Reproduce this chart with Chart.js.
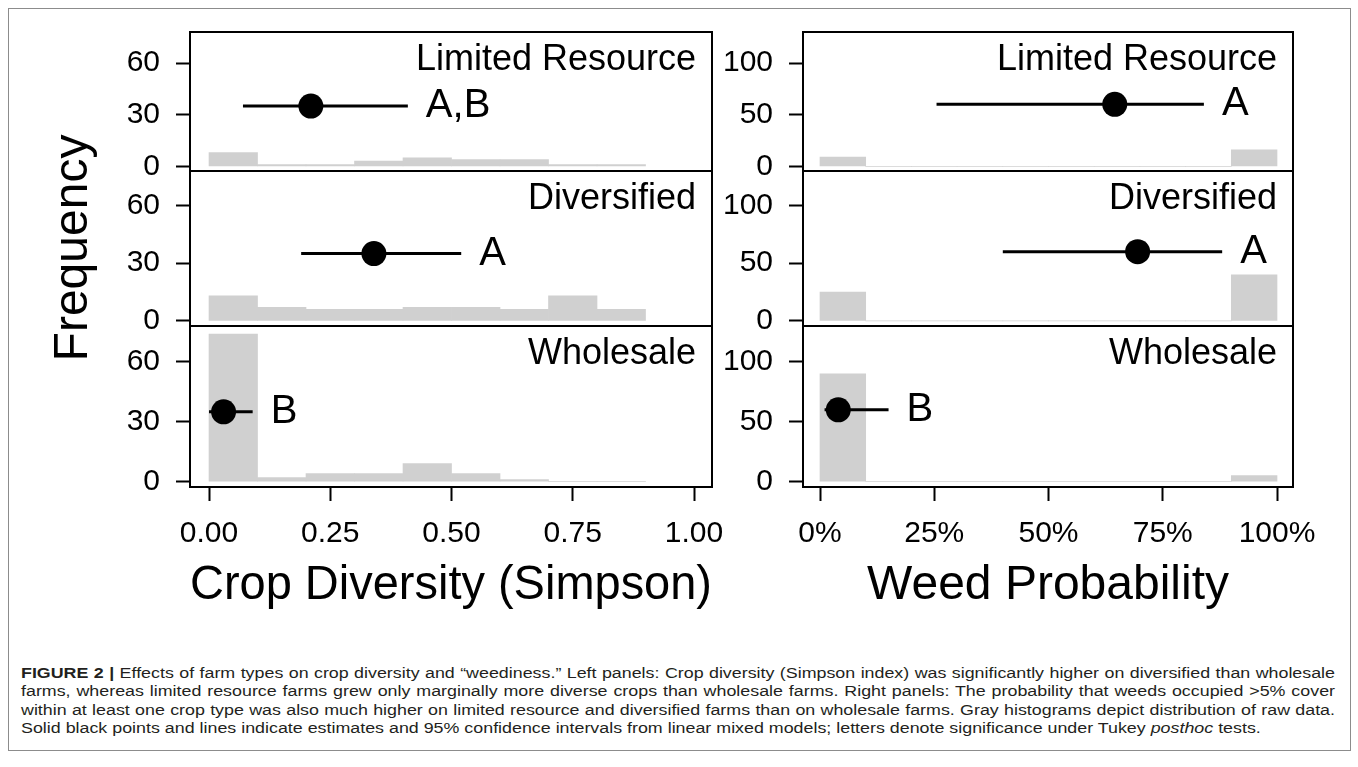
<!DOCTYPE html>
<html>
<head>
<meta charset="utf-8">
<script src="https://cdn.jsdelivr.net/npm/chart.js@4.4.1/dist/chart.umd.min.js"></script>
<style>
body { margin: 0; background: #fff; width: 1358px; height: 767px; overflow: hidden; position: relative; }
#frame { position: absolute; left: 8px; top: 8px; width: 1341px; height: 741px; border: 1px solid #8c8c8c; }
#leftChart { position: absolute; left: 0; top: 0; }
#rightChart { position: absolute; left: 712px; top: 0; }
#caption { position: absolute; left: 21px; top: 664px; width: 1080px; color: #231f20;
  font-family: "Liberation Sans", Arial, sans-serif;
  font-size: 14px; line-height: 18.4px; transform-origin: 0 0; transform: scaleX(1.2167); }
#caption .cl { text-align: justify; text-align-last: justify; }
#caption .cl.last { text-align-last: left; }
</style>
</head>
<body>
<div id="frame"></div>
<canvas id="leftChart" width="745" height="650"></canvas>
<canvas id="rightChart" width="646" height="650"></canvas>
<div id="caption">
  <div class="cl"><b>FIGURE 2 |</b> Effects of farm types on crop diversity and “weediness.” Left panels: Crop diversity (Simpson index) was significantly higher on diversified than wholesale</div>
  <div class="cl">farms, whereas limited resource farms grew only marginally more diverse crops than wholesale farms. Right panels: The probability that weeds occupied &gt;5% cover</div>
  <div class="cl">within at least one crop type was also much higher on limited resource and diversified farms than on wholesale farms. Gray histograms depict distribution of raw data.</div>
  <div class="cl last">Solid black points and lines indicate estimates and 95% confidence intervals from linear mixed models; letters denote significance under Tukey <i>posthoc</i> tests.</div>
</div>
<script>
// facets, top to bottom
var farmTypes = ["Limited Resource", "Diversified", "Wholesale"];

// crop diversity histograms (bin left edges, width 0.1)
var divBins = [0, 0.1, 0.2, 0.3, 0.4, 0.5, 0.6, 0.7, 0.8];
var divLimited = [8, 1, 1, 3, 5, 4, 4, 1, 1];
var divDiversified = [13, 7, 6, 6, 7, 7, 6, 13, 6];
var divWholesale = [74, 2, 4, 4, 9, 4, 1, 0, 0];

// weed probability histograms
var weedBins = [0, 0.1, 0.2, 0.3, 0.4, 0.5, 0.6, 0.7, 0.8, 0.9];
var weedLimited = [9, 0, 0, 0, 0, 0, 0, 0, 0, 16];
var weedDiversified = [25, 0, 0, 0, 0, 0, 0, 0, 0, 40];
var weedWholesale = [90, 0, 0, 0, 0, 0, 0, 0, 0, 5];

// model estimates and 95% CI
var divEst = [0.21, 0.34, 0.03];
var divLow = [0.07, 0.19, 0.0];
var divHigh = [0.41, 0.52, 0.09];
var divLetters = ["A,B", "A", "B"];
var divEstY = 35;

var weedEst = [0.645, 0.695, 0.04];
var weedLow = [0.255, 0.40, 0.01];
var weedHigh = [0.84, 0.88, 0.15];
var weedLetters = ["A", "A", "B"];
var weedEstY = 60;

// ticks
var divTicks = [0, 0.25, 0.5, 0.75, 1];
var divTickLabels = ["0.00", "0.25", "0.50", "0.75", "1.00"];
var weedTicks = [0, 0.25, 0.5, 0.75, 1];
var weedTickLabels = ["0%", "25%", "50%", "75%", "100%"];
var divFreqTicks = [0, 30, 60];
var weedFreqTicks = [0, 50, 100];

var FONT = '"Liberation Sans", Arial, Helvetica, sans-serif';
var GRAY = '#d0d0d0';
var panelWeights = [139, 155, 161];
var axisIds = ["yL", "yD", "yW"];

Chart.defaults.font.family = FONT;
Chart.defaults.color = '#000';

var panelDecor = {
    id: 'panelDecor',
    afterDraw: function(chart, args, opts) {
        var ctx = chart.ctx;
        var area = chart.chartArea;
        var xs = chart.scales.x;
        ctx.save();
        axisIds.forEach(function(id, i) {
            var ys = chart.scales[id];
            ctx.lineWidth = 2;
            ctx.strokeStyle = '#000';
            ctx.strokeRect(area.left, ys.top, area.right - area.left, ys.bottom - ys.top);
            ctx.fillStyle = '#000';
            ctx.font = '36px ' + FONT;
            ctx.textAlign = 'right';
            ctx.textBaseline = 'middle';
            ctx.fillText(farmTypes[i], area.right - 16, ys.top + 28);
            // significance letter just past the upper CI
            ctx.font = '40px ' + FONT;
            ctx.textAlign = 'left';
            ctx.fillText(opts.letters[i], xs.getPixelForValue(opts.high[i]) + 18, ys.getPixelForValue(opts.estY));
        });
        if (opts.yTitle) {
            ctx.translate(87, 248);
            ctx.rotate(-Math.PI / 2);
            ctx.font = '48px ' + FONT;
            ctx.textAlign = 'center';
            ctx.textBaseline = 'alphabetic';
            ctx.fillText(opts.yTitle, 0, 0);
        }
        ctx.restore();
    }
};

function yAxis(weight, ticks, min, max, width) {
    return {
        type: 'linear',
        position: 'left',
        stack: 'panels',
        stackWeight: weight,
        min: min,
        max: max,
        afterBuildTicks: function(s) { s.ticks = ticks.map(function(v) { return { value: v }; }); },
        ticks: { font: { size: 30 }, color: '#000', padding: 16 },
        grid: { drawOnChartArea: false, tickLength: 14, tickWidth: 2, tickColor: '#000' },
        border: { display: false },
        afterFit: function(s) { s.width = width; s.paddingTop = 0; s.paddingBottom = 0; }
    };
}

function makeChart(canvasId, p) {
    var datasets = [];
    p.counts.forEach(function(counts, i) {
        datasets.push({
            type: 'bar',
            data: p.bins.map(function(b, j) { return { x: b + 0.05, y: counts[j] }; }),
            yAxisID: axisIds[i],
            backgroundColor: GRAY,
            borderWidth: 0,
            barPercentage: 1,
            categoryPercentage: 1,
            grouped: false,
            order: 3
        });
        datasets.push({
            type: 'line',
            data: [{ x: p.low[i], y: p.estY }, { x: p.high[i], y: p.estY }],
            yAxisID: axisIds[i],
            borderColor: '#000',
            borderWidth: 3,
            pointRadius: 0,
            order: 2
        });
        datasets.push({
            type: 'scatter',
            data: [{ x: p.est[i], y: p.estY }],
            yAxisID: axisIds[i],
            backgroundColor: '#000',
            borderWidth: 0,
            pointRadius: 12.5,
            order: 1
        });
    });

    var scales = {
        x: {
            type: 'linear',
            offset: false,
            min: p.xMin,
            max: p.xMax,
            afterBuildTicks: function(s) { s.ticks = p.ticks.map(function(v) { return { value: v }; }); },
            ticks: {
                font: { size: 30 }, color: '#000', padding: 15, maxRotation: 0, autoSkip: false,
                callback: function(v, i) { return p.tickLabels[i]; }
            },
            grid: { offset: false, drawOnChartArea: false, tickLength: 14, tickWidth: 2, tickColor: '#000' },
            border: { display: false },
            title: { display: true, text: p.xTitle, font: { size: 48 }, color: '#000', padding: 0 },
            afterFit: function(s) { s.height = 128; s.paddingLeft = 0; s.paddingRight = 0; }
        }
    };
    // bottom panel first: stacked left axes are placed from the last one down
    scales.yW = yAxis(panelWeights[2], p.yTicks, p.yMin, p.yMax, p.yWidth);
    scales.yD = yAxis(panelWeights[1], p.yTicks, p.yMin, p.yMax, p.yWidth);
    scales.yL = yAxis(panelWeights[0], p.yTicks, p.yMin, p.yMax, p.yWidth);

    return new Chart(document.getElementById(canvasId), {
        type: 'bar',
        data: { datasets: datasets },
        options: {
            responsive: false,
            animation: false,
            layout: { padding: { left: 0, top: 32, right: p.padRight, bottom: 35 } },
            plugins: {
                legend: { display: false },
                tooltip: { enabled: false },
                panelDecor: { letters: p.letters, high: p.high, estY: p.estY, yTitle: p.yTitle }
            },
            scales: scales
        },
        plugins: [panelDecor]
    });
}

makeChart('leftChart', {
    bins: divBins,
    counts: [divLimited, divDiversified, divWholesale],
    est: divEst, low: divLow, high: divHigh, letters: divLetters, estY: divEstY,
    ticks: divTicks, tickLabels: divTickLabels, yTicks: divFreqTicks,
    xMin: -0.0392, xMax: 1.0371, yMin: -2.7, yMax: 78,
    xTitle: 'Crop Diversity (Simpson)', yTitle: 'Frequency',
    yWidth: 190, padRight: 33
});

makeChart('rightChart', {
    bins: weedBins,
    counts: [weedLimited, weedDiversified, weedWholesale],
    est: weedEst, low: weedLow, high: weedHigh, letters: weedLetters, estY: weedEstY,
    ticks: weedTicks, tickLabels: weedTickLabels, yTicks: weedFreqTicks,
    xMin: -0.0372, xMax: 1.035, yMin: -4.5, yMax: 130,
    xTitle: 'Weed Probability', yTitle: null,
    yWidth: 91, padRight: 65
});

// caption column: measure the longest line with canvas text metrics,
// then stretch the block so the justified lines span the frame
(function() {
    var cap = document.getElementById('caption');
    var mctx = document.createElement('canvas').getContext('2d');
    var widest = 0;
    cap.querySelectorAll('.cl').forEach(function(d) {
        var w = 0;
        d.childNodes.forEach(function(n) {
            var bold = n.nodeName === 'B';
            var ital = n.nodeName === 'I';
            mctx.font = (bold ? 'bold ' : '') + (ital ? 'italic ' : '') + '14px "Liberation Sans", Arial, sans-serif';
            w += mctx.measureText(n.textContent.replace(/\s+/g, ' ')).width;
        });
        widest = Math.max(widest, w);
    });
    var colWidth = Math.ceil(widest) + 6;
    cap.style.width = colWidth + 'px';
    cap.style.transform = 'scaleX(' + (1314 / colWidth).toFixed(4) + ')';
})();
</script>
</body>
</html>
